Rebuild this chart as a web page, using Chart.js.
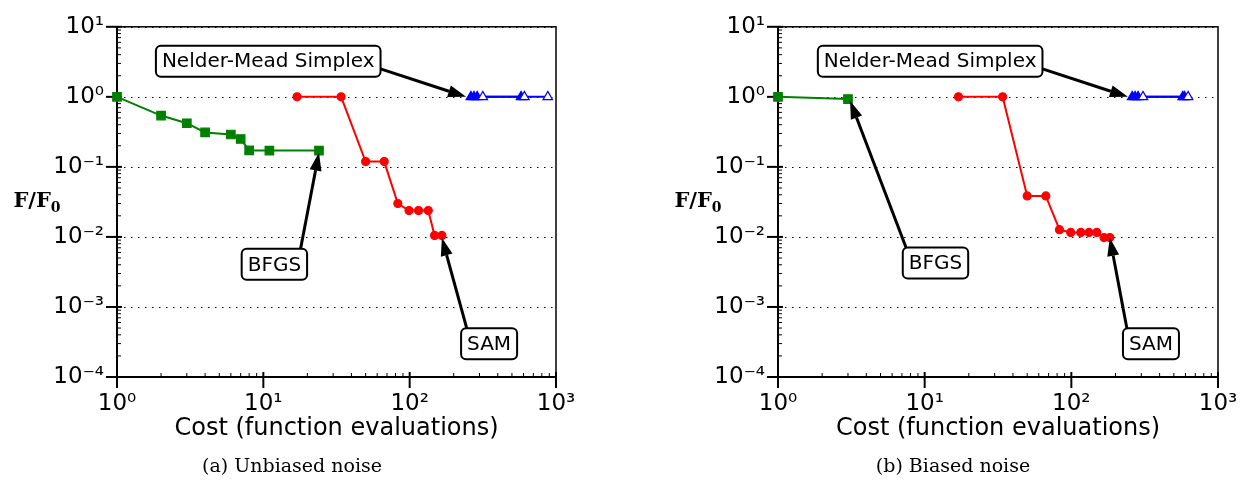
<!DOCTYPE html>
<html>
<head>
<meta charset="utf-8">
<script src="https://cdn.jsdelivr.net/npm/chart.js@4.4.1/dist/chart.umd.min.js"></script>
<style>
body { margin: 0; background: #fff; width: 1245px; height: 481px; position: relative; overflow: hidden; }
canvas { position: absolute; top: 0; }
#left { left: 0; }
#right { left: 661px; }
</style>
</head>
<body>
<canvas id="left" width="600" height="481" style="width:600px;height:481px"></canvas>
<canvas id="right" width="601" height="481" style="width:601px;height:481px"></canvas>
<script>
//axis ticks
var xMajor = [1, 10, 100, 1000]
var xLabels = ['10⁰', '10¹', '10²', '10³']
var yMajor = [0.0001, 0.001, 0.01, 0.1, 1, 10]
var yLabels = ['10⁻⁴', '10⁻³', '10⁻²', '10⁻¹', '10⁰', '10¹']
var xTitle = 'Cost (function evaluations)'

//(a) unbiased noise
var leftBfgsX = [1, 2, 3, 4, 6, 7, 8, 11, 24]
var leftBfgsY = [1, 0.54, 0.42, 0.31, 0.29, 0.25, 0.172, 0.171, 0.171]
var leftSamX = [17, 34, 50, 67, 83, 99, 115, 134, 148, 166]
var leftSamY = [1, 1, 0.119, 0.119, 0.030, 0.0238, 0.0238, 0.0238, 0.0105, 0.0105]
var leftNmX = [262, 275, 289, 577]
var leftNmY = [1, 1, 1, 1]
var leftNmOpenX = [316, 608, 879]
var leftNmOpenY = [1, 1, 1]

//(b) biased noise
var rightBfgsX = [1, 3]
var rightBfgsY = [1, 0.93]
var rightSamX = [17, 34, 50, 67, 83, 99, 116, 132, 149, 167, 183]
var rightSamY = [1, 1, 0.0385, 0.0385, 0.0127, 0.0116, 0.0116, 0.0116, 0.0116, 0.0098, 0.0098]
var rightNmX = [260, 272, 285, 575, 590]
var rightNmY = [1, 1, 1, 1, 1]
var rightNmOpenX = [308, 625]
var rightNmOpenY = [1, 1]

//callouts: box centre and arrow tip in data units, arrow start as fraction of the box
var leftNotes = [
    { text: 'Nelder-Mead Simplex', at: [10.8, 3.23], from: [1, 0.75], tip: [243, 1] },
    { text: 'BFGS', at: [11.9, 0.00406], from: [0.9, 0], tip: [24, 0.16] },
    { text: 'SAM', at: [349, 0.000299], from: [0.1, 0], tip: [166, 0.0097] }
]
var rightNotes = [
    { text: 'Nelder-Mead Simplex', at: [10.9, 3.23], from: [1, 0.75], tip: [243, 1] },
    { text: 'BFGS', at: [11.85, 0.00425], from: [0.05, 0], tip: [3.1, 0.88] },
    { text: 'SAM', at: [349, 0.000299], from: [0.07, 0], tip: [183, 0.0097] }
]
var captions = { left: '(a) Unbiased noise', right: '(b) Biased noise' }
var notes = { left: leftNotes, right: rightNotes }

Chart.defaults.font.family = '"DejaVu Sans"'
Chart.defaults.color = '#000'

function logTicks(majors) {
    var m = majors.slice().sort(function (a, b) { return a - b })
    var ticks = []
    for (var i = 0; i < m.length; i++) {
        ticks.push({ value: m[i], major: true })
        if (i < m.length - 1) {
            for (var k = 2; k < 10; k++) ticks.push({ value: m[i] * k, major: false })
        }
    }
    return ticks
}

function pts(xs, ys) {
    return xs.map(function (x, i) { return { x: x, y: ys[i] } })
}

function series(label, xs, ys, color, style, radius, fill) {
    return {
        label: label,
        data: pts(xs, ys),
        borderColor: color,
        backgroundColor: fill,
        pointBackgroundColor: fill,
        pointBorderColor: color,
        pointStyle: style,
        pointRadius: radius,
        pointHoverRadius: radius,
        pointBorderWidth: 1.2,
        borderWidth: 2,
        tension: 0,
        clip: false
    }
}

//frame, ticks, dotted grid, y label
function drawFrame(chart) {
    var ctx = chart.ctx, a = chart.chartArea, xs = chart.scales.x, ys = chart.scales.y
    ctx.save()
    ctx.strokeStyle = '#000'
    ctx.lineWidth = 1
    ctx.setLineDash([1.5, 5.5])
    yMajor.forEach(function (v) {
        var p = Math.round(ys.getPixelForValue(v)) + 0.5
        ctx.beginPath(); ctx.moveTo(a.left, p); ctx.lineTo(a.right, p); ctx.stroke()
    })
    ctx.setLineDash([])
    ctx.lineWidth = 1.5
    ctx.strokeRect(a.left, a.top, a.right - a.left, a.bottom - a.top)
    ctx.lineWidth = 2
    ctx.beginPath()
    ctx.moveTo(a.left, a.top); ctx.lineTo(a.left, a.bottom); ctx.lineTo(a.right, a.bottom)
    ctx.stroke()
    xs.ticks.forEach(function (t) {
        var p = xs.getPixelForValue(t.value)
        ctx.lineWidth = t.major ? 2 : 1
        ctx.beginPath()
        ctx.moveTo(p, a.bottom - (t.major ? 5 : 4))
        ctx.lineTo(p, a.bottom + (t.major ? 11 : 0))
        ctx.stroke()
    })
    ys.ticks.forEach(function (t) {
        var p = ys.getPixelForValue(t.value)
        ctx.lineWidth = t.major ? 2 : 1
        ctx.beginPath()
        ctx.moveTo(a.left - (t.major ? 11 : 0), p)
        ctx.lineTo(a.left + (t.major ? 5 : 4), p)
        ctx.stroke()
    })
    //F/F0
    var cy = (a.top + a.bottom) / 2
    ctx.fillStyle = '#000'
    ctx.textBaseline = 'middle'
    ctx.textAlign = 'left'
    ctx.font = 'bold 21px "DejaVu Serif"'
    var w1 = ctx.measureText('F/F').width
    ctx.font = 'bold 14px "DejaVu Serif"'
    var w2 = ctx.measureText('0').width
    var x0 = 37 - (w1 + w2) / 2
    ctx.font = 'bold 21px "DejaVu Serif"'
    ctx.fillText('F/F', x0, cy)
    ctx.font = 'bold 14px "DejaVu Serif"'
    ctx.fillText('0', x0 + w1, cy + 6)
    ctx.restore()
}

function roundBox(ctx, x, y, w, h, r) {
    ctx.beginPath()
    ctx.moveTo(x + r, y)
    ctx.arcTo(x + w, y, x + w, y + h, r)
    ctx.arcTo(x + w, y + h, x, y + h, r)
    ctx.arcTo(x, y + h, x, y, r)
    ctx.arcTo(x, y, x + w, y, r)
    ctx.closePath()
}

function drawNote(chart, n) {
    var ctx = chart.ctx, xs = chart.scales.x, ys = chart.scales.y
    ctx.save()
    ctx.font = '20px "DejaVu Sans"'
    var w = ctx.measureText(n.text).width + 12, h = 31
    var cx = xs.getPixelForValue(n.at[0]), cy = ys.getPixelForValue(n.at[1])
    var bx = cx - w / 2, by = cy - h / 2
    var sx = bx + n.from[0] * w, sy = by + n.from[1] * h
    var tx = xs.getPixelForValue(n.tip[0]), ty = ys.getPixelForValue(n.tip[1])
    var dx = tx - sx, dy = ty - sy, len = Math.hypot(dx, dy)
    var ux = dx / len, uy = dy / len
    var hl = 18, hw = 6
    var hx = tx - ux * hl, hy = ty - uy * hl
    ctx.strokeStyle = '#000'
    ctx.fillStyle = '#000'
    ctx.lineWidth = 3
    ctx.beginPath(); ctx.moveTo(sx, sy); ctx.lineTo(hx, hy); ctx.stroke()
    ctx.beginPath()
    ctx.moveTo(tx, ty)
    ctx.lineTo(hx - uy * hw, hy + ux * hw)
    ctx.lineTo(hx + uy * hw, hy - ux * hw)
    ctx.closePath()
    ctx.fill()
    roundBox(ctx, bx, by, w, h, 5)
    ctx.fillStyle = '#fff'
    ctx.fill()
    ctx.lineWidth = 2
    ctx.stroke()
    ctx.fillStyle = '#000'
    ctx.textAlign = 'center'
    ctx.textBaseline = 'middle'
    ctx.fillText(n.text, cx, cy + 1)
    ctx.restore()
}

var deco = {
    id: 'deco',
    beforeDatasetsDraw: function (chart) { drawFrame(chart) },
    afterDatasetsDraw: function (chart) {
        var id = chart.canvas.id
        notes[id].forEach(function (n) { drawNote(chart, n) })
        var ctx = chart.ctx
        ctx.save()
        ctx.fillStyle = '#000'
        ctx.font = '19px "DejaVu Serif"'
        ctx.textAlign = 'center'
        ctx.textBaseline = 'middle'
        ctx.fillText(captions[id], 292, 467)
        ctx.restore()
    }
}

function makeChart(id, datasets) {
    return new Chart(document.getElementById(id), {
        type: 'line',
        data: { datasets: datasets },
        plugins: [deco],
        options: {
            responsive: false,
            animation: false,
            layout: { padding: { top: 19, right: 44, bottom: 31, left: 0 } },
            plugins: { legend: { display: false }, tooltip: { enabled: false } },
            scales: {
                x: {
                    type: 'logarithmic', min: 1, max: 1000,
                    afterBuildTicks: function (s) { s.ticks = logTicks(xMajor) },
                    afterFit: function (s) { s.height = 73 },
                    grid: { display: false, drawTicks: false },
                    border: { display: false },
                    ticks: {
                        autoSkip: false, maxRotation: 0, padding: 13,
                        font: { size: 23 },
                        callback: function (v) {
                            var i = xMajor.indexOf(v)
                            return i < 0 ? '' : xLabels[i]
                        }
                    },
                    title: { display: true, text: xTitle, font: { size: 24 }, padding: { top: 0, bottom: 7 } }
                },
                y: {
                    type: 'logarithmic', min: 0.0001, max: 10,
                    afterBuildTicks: function (s) { s.ticks = logTicks(yMajor) },
                    afterFit: function (s) { s.width = 117 },
                    grid: { display: false, drawTicks: false },
                    border: { display: false },
                    ticks: {
                        autoSkip: false, padding: 13,
                        font: { size: 23 },
                        callback: function (v) {
                            var i = yMajor.indexOf(v)
                            return i < 0 ? '' : yLabels[i]
                        }
                    }
                }
            }
        }
    })
}

makeChart('left', [
    series('NM restart', leftNmOpenX, leftNmOpenY, '#0000ff', 'triangle', 5.5, '#ffffff'),
    series('Nelder-Mead Simplex', leftNmX, leftNmY, '#0000ff', 'triangle', 5.5, '#0000ff'),
    series('SAM', leftSamX, leftSamY, '#ff0000', 'circle', 4, '#ff0000'),
    series('BFGS', leftBfgsX, leftBfgsY, '#008000', 'rect', 6, '#008000')
])
makeChart('right', [
    series('NM restart', rightNmOpenX, rightNmOpenY, '#0000ff', 'triangle', 5.5, '#ffffff'),
    series('Nelder-Mead Simplex', rightNmX, rightNmY, '#0000ff', 'triangle', 5.5, '#0000ff'),
    series('SAM', rightSamX, rightSamY, '#ff0000', 'circle', 4, '#ff0000'),
    series('BFGS', rightBfgsX, rightBfgsY, '#008000', 'rect', 6, '#008000')
])
</script>
</body>
</html>
